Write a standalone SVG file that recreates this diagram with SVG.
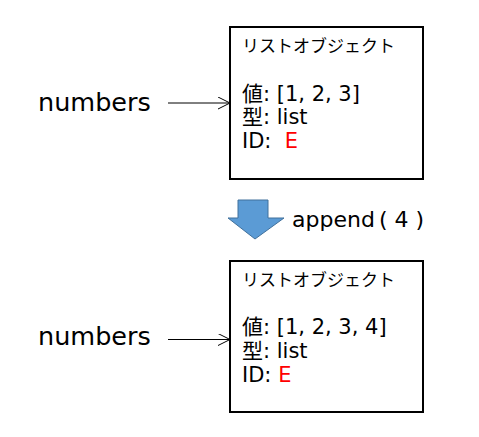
<svg xmlns="http://www.w3.org/2000/svg" width="479" height="437" viewBox="0 0 479 437">
<defs>
<style>
.t{font-family:"DejaVu Sans","Noto Sans CJK JP",sans-serif;fill:#000}
.lbl{font-size:25.5px}
.ap{font-size:22px}
.hd{font-size:17px;font-family:"Noto Sans CJK JP",sans-serif}
.bd{font-size:21px}
.red{fill:#ff0000}
.box{fill:#fff;stroke:#000;stroke-width:2}
.con{stroke:#000;stroke-width:1;fill:none}
</style>
<marker id="ah" markerWidth="14" markerHeight="14" refX="12" refY="6" orient="auto" markerUnits="userSpaceOnUse">
<path d="M0,0 L12,6 L0,12" fill="none" stroke="#000" stroke-width="1"/>
</marker>
</defs>
<rect width="479" height="437" fill="#fff"/>
<g id="obj1">
<rect class="box" x="230" y="27" width="193" height="152"/>
<text class="t hd" x="242" y="52">リストオブジェクト</text>
<text class="t bd" x="242" y="101">値: [1, 2, 3]</text>
<text class="t bd" x="242" y="124">型: list</text>
<text class="t bd" x="242" y="148" xml:space="preserve">ID:  <tspan class="red">E</tspan></text>
</g>
<g id="obj2">
<rect class="box" x="230" y="261" width="193" height="151"/>
<text class="t hd" x="242" y="286">リストオブジェクト</text>
<text class="t bd" x="242" y="334">値: [1, 2, 3, 4]</text>
<text class="t bd" x="242" y="358">型: list</text>
<text class="t bd" x="242" y="382" xml:space="preserve">ID: <tspan class="red">E</tspan></text>
</g>
<g id="var1"><text class="t lbl" x="38" y="111">numbers</text></g>
<g id="var2"><text class="t lbl" x="38" y="345">numbers</text></g>
<g id="op">
<polygon points="238,200 268,200 268,218 284,218 255,239 228,218 238,218" fill="#5b9bd5" stroke="#41719c" stroke-width="1"/>
<text class="t ap" x="292" y="227">append<tspan x="379" letter-spacing="7">(4)</tspan></text>
</g>
<g id="connectors">
<line class="con" x1="168" y1="103" x2="230" y2="103" marker-end="url(#ah)"/>
<line class="con" x1="168" y1="339.5" x2="230" y2="339.5" marker-end="url(#ah)"/>
</g>
</svg>
